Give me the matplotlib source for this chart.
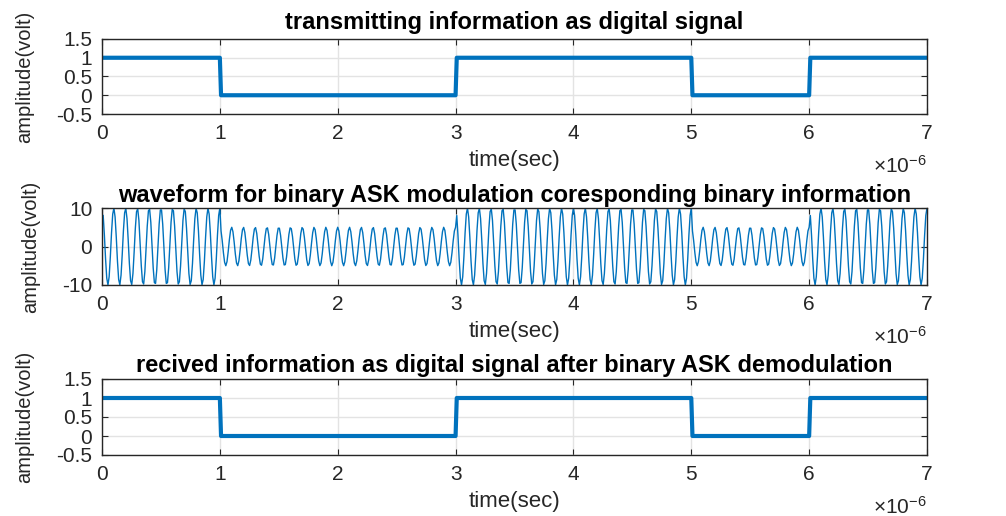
import numpy as np
import matplotlib
matplotlib.use("Agg")
import matplotlib.pyplot as plt
from matplotlib.ticker import FuncFormatter, MultipleLocator

plt.rcParams['font.family'] = ['Liberation Sans', 'DejaVu Sans']
plt.rcParams['mathtext.fontset'] = 'custom'
plt.rcParams['mathtext.rm'] = 'Liberation Sans'
plt.rcParams['mathtext.it'] = 'Liberation Sans'
plt.rcParams['axes.unicode_minus'] = False

# binary information and modulation settings
bits = [1, 0, 0, 1, 1, 0, 1]
received_bits = [1, 0, 0, 1, 1, 0, 1]
bit_period = 1e-6          # seconds per bit
amp_one = 10               # carrier amplitude for bit 1
amp_zero = 5               # carrier amplitude for bit 0
carrier_cycles = 10        # carrier cycles per bit

BLUE = '#0072BD'
EDGE = '#262626'
GRID = '#e3e3e3'


def digital_wave(b):
    t = np.arange(1, 100 * len(b) + 1) * bit_period / 100
    y = np.repeat(b, 100)
    return t, y


def ask_wave(b):
    f = carrier_cycles / bit_period
    t2 = np.arange(1, 100) * bit_period / 99
    y = np.concatenate([(amp_one if v else amp_zero) * np.cos(2 * np.pi * f * t2) for v in b])
    t3 = np.arange(1, len(y) + 1) * bit_period / 99
    return t3, y


def style(ax, title, tpad):
    ax.set_xlim(0, 7e-6)
    ax.xaxis.set_major_locator(MultipleLocator(1e-6))
    ax.xaxis.set_major_formatter(FuncFormatter(lambda v, p: '%g' % round(v * 1e6, 6)))
    ax.grid(True, color=GRID, linewidth=1)
    ax.set_axisbelow(True)
    ax.tick_params(direction='in', top=True, right=True, length=4, width=0.8,
                   color=EDGE, labelsize=15, pad=7, labelcolor=EDGE)
    for s in ax.spines.values():
        s.set_color(EDGE)
        s.set_linewidth(1.0)
    ax.set_title(title, fontsize=17, fontweight='bold', pad=tpad)
    ax.set_xlabel('time(sec)', fontsize=16, labelpad=5, color=EDGE)
    ax.set_ylabel('amplitude(volt)', fontsize=14.5, color=EDGE)
    ax.annotate(r'$\times10^{-6}$', xy=(1, 0), xycoords='axes fraction',
                xytext=(0, -37), textcoords='offset points', ha='right', va='center',
                fontsize=15, color=EDGE)


fig = plt.figure(figsize=(10.06, 5.16), dpi=100)
left, width = 102 / 1006, 825 / 1006

ax1 = fig.add_axes([left, 1 - 114 / 516, width, 75 / 516])
t, y = digital_wave(bits)
ax1.plot(t, y, color=BLUE, linewidth=3)
ax1.set_ylim(-0.5, 1.5)
ax1.set_yticks([-0.5, 0, 0.5, 1, 1.5])
ax1.set_yticklabels(['-0.5', '0', '0.5', '1', '1.5'])
style(ax1, 'transmitting information as digital signal', 7)
ax1.yaxis.set_label_coords(-0.082, 0.5)

ax2 = fig.add_axes([left, 1 - 285 / 516, width, 77 / 516])
t, y = ask_wave(bits)
ax2.plot(t, y, color=BLUE, linewidth=1)
ax2.set_ylim(-10, 10)
ax2.set_yticks([-10, 0, 10])
style(ax2, 'waveform for binary ASK modulation coresponding binary information', 4)
ax2.yaxis.set_label_coords(-0.075, 0.5)

ax3 = fig.add_axes([left, 1 - 455 / 516, width, 76 / 516])
t, y = digital_wave(received_bits)
ax3.plot(t, y, color=BLUE, linewidth=3)
ax3.set_ylim(-0.5, 1.5)
ax3.set_yticks([-0.5, 0, 0.5, 1, 1.5])
ax3.set_yticklabels(['-0.5', '0', '0.5', '1', '1.5'])
style(ax3, 'recived information as digital signal after binary ASK demodulation', 5)
ax3.yaxis.set_label_coords(-0.082, 0.5)

fig.savefig('out.png', dpi=100)
